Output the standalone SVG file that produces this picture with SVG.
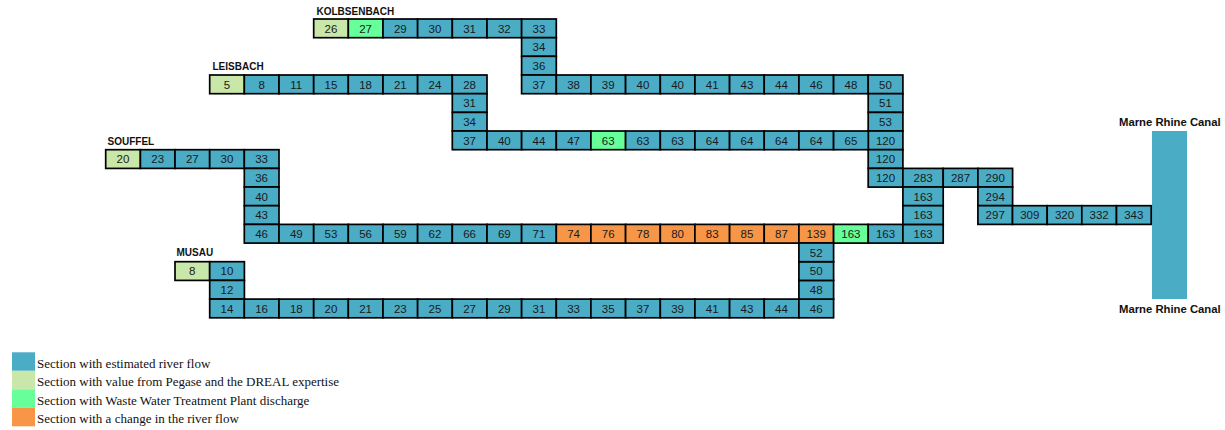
<svg xmlns="http://www.w3.org/2000/svg" width="1225" height="430" viewBox="0 0 1225 430">
<style>
rect.bl{fill:#4BACC6}
rect.lg{fill:#C9E7A8}
rect.gr{fill:#66FF99}
rect.or{fill:#F79646}
g.c rect{stroke:#000;stroke-width:1.7}
g.c text{font-family:"Liberation Sans",Arial,sans-serif;font-size:11.5px;text-anchor:middle;fill:#1a1a1a}
text.lab{font-family:"Liberation Sans",Arial,sans-serif;font-weight:bold;font-size:10px;fill:#111}
text.leg{font-family:"Liberation Serif","Times New Roman",serif;font-size:13px;fill:#111}
</style>
<rect width="1225" height="430" fill="#fff"/>
<g id="labels">
<text class="lab" x="316.5" y="15">KOLBSENBACH</text>
<text class="lab" x="212.5" y="69.5">LEISBACH</text>
<text class="lab" x="107.5" y="145">SOUFFEL</text>
<text class="lab" x="176.5" y="256">MUSAU</text>
<text class="lab" x="1119" y="126" style="font-size:11.3px">Marne Rhine Canal</text>
<text class="lab" x="1119" y="313" style="font-size:11.3px">Marne Rhine Canal</text>
</g>
<g id="canal"><rect x="1152" y="131" width="35" height="168" fill="#4BACC6"/></g>
<g id="connectors"></g>
<!-- Kolbsenbach -->
<g id="k1" class="c" transform="translate(313.7 19)"><rect class="lg" width="34.7" height="18.7"/><text x="17.3" y="13.5">26</text></g>
<g id="k2" class="c" transform="translate(348.3 19)"><rect class="gr" width="34.7" height="18.7"/><text x="17.3" y="13.5">27</text></g>
<g id="k3" class="c" transform="translate(383 19)"><rect class="bl" width="34.7" height="18.7"/><text x="17.3" y="13.5">29</text></g>
<g id="k4" class="c" transform="translate(417.6 19)"><rect class="bl" width="34.7" height="18.7"/><text x="17.3" y="13.5">30</text></g>
<g id="k5" class="c" transform="translate(452.3 19)"><rect class="bl" width="34.7" height="18.7"/><text x="17.3" y="13.5">31</text></g>
<g id="k6" class="c" transform="translate(487 19)"><rect class="bl" width="34.7" height="18.7"/><text x="17.3" y="13.5">32</text></g>
<g id="k7" class="c" transform="translate(521.6 19)"><rect class="bl" width="34.7" height="18.7"/><text x="17.3" y="13.5">33</text></g>
<g id="k8" class="c" transform="translate(521.6 37.7)"><rect class="bl" width="34.7" height="18.7"/><text x="17.3" y="13.5">34</text></g>
<g id="k9" class="c" transform="translate(521.6 56.3)"><rect class="bl" width="34.7" height="18.7"/><text x="17.3" y="13.5">36</text></g>
<g id="k10" class="c" transform="translate(521.6 75)"><rect class="bl" width="34.7" height="18.7"/><text x="17.3" y="13.5">37</text></g>
<g id="k11" class="c" transform="translate(556.3 75)"><rect class="bl" width="34.7" height="18.7"/><text x="17.3" y="13.5">38</text></g>
<g id="k12" class="c" transform="translate(590.9 75)"><rect class="bl" width="34.7" height="18.7"/><text x="17.3" y="13.5">39</text></g>
<g id="k13" class="c" transform="translate(625.6 75)"><rect class="bl" width="34.7" height="18.7"/><text x="17.3" y="13.5">40</text></g>
<g id="k14" class="c" transform="translate(660.3 75)"><rect class="bl" width="34.7" height="18.7"/><text x="17.3" y="13.5">40</text></g>
<g id="k15" class="c" transform="translate(694.9 75)"><rect class="bl" width="34.7" height="18.7"/><text x="17.3" y="13.5">41</text></g>
<g id="k16" class="c" transform="translate(729.6 75)"><rect class="bl" width="34.7" height="18.7"/><text x="17.3" y="13.5">43</text></g>
<g id="k17" class="c" transform="translate(764.2 75)"><rect class="bl" width="34.7" height="18.7"/><text x="17.3" y="13.5">44</text></g>
<g id="k18" class="c" transform="translate(798.9 75)"><rect class="bl" width="34.7" height="18.7"/><text x="17.3" y="13.5">46</text></g>
<g id="k19" class="c" transform="translate(833.6 75)"><rect class="bl" width="34.7" height="18.7"/><text x="17.3" y="13.5">48</text></g>
<g id="k20" class="c" transform="translate(868.2 75)"><rect class="bl" width="34.7" height="18.7"/><text x="17.3" y="13.5">50</text></g>
<g id="k21" class="c" transform="translate(868.2 93.7)"><rect class="bl" width="34.7" height="18.7"/><text x="17.3" y="13.5">51</text></g>
<g id="k22" class="c" transform="translate(868.2 112.4)"><rect class="bl" width="34.7" height="18.7"/><text x="17.3" y="13.5">53</text></g>
<g id="m1" class="c" transform="translate(868.2 131)"><rect class="bl" width="34.7" height="18.7"/><text x="17.3" y="13.5">120</text></g>
<g id="m2" class="c" transform="translate(868.2 149.7)"><rect class="bl" width="34.7" height="18.7"/><text x="17.3" y="13.5">120</text></g>
<g id="m3" class="c" transform="translate(868.2 168.4)"><rect class="bl" width="34.7" height="18.7"/><text x="17.3" y="13.5">120</text></g>
<!-- Leisbach -->
<g id="l1" class="c" transform="translate(209.7 75)"><rect class="lg" width="34.7" height="18.7"/><text x="17.3" y="13.5">5</text></g>
<g id="l2" class="c" transform="translate(244.3 75)"><rect class="bl" width="34.7" height="18.7"/><text x="17.3" y="13.5">8</text></g>
<g id="l3" class="c" transform="translate(279 75)"><rect class="bl" width="34.7" height="18.7"/><text x="17.3" y="13.5">11</text></g>
<g id="l4" class="c" transform="translate(313.7 75)"><rect class="bl" width="34.7" height="18.7"/><text x="17.3" y="13.5">15</text></g>
<g id="l5" class="c" transform="translate(348.3 75)"><rect class="bl" width="34.7" height="18.7"/><text x="17.3" y="13.5">18</text></g>
<g id="l6" class="c" transform="translate(383 75)"><rect class="bl" width="34.7" height="18.7"/><text x="17.3" y="13.5">21</text></g>
<g id="l7" class="c" transform="translate(417.6 75)"><rect class="bl" width="34.7" height="18.7"/><text x="17.3" y="13.5">24</text></g>
<g id="l8" class="c" transform="translate(452.3 75)"><rect class="bl" width="34.7" height="18.7"/><text x="17.3" y="13.5">28</text></g>
<g id="l9" class="c" transform="translate(452.3 93.7)"><rect class="bl" width="34.7" height="18.7"/><text x="17.3" y="13.5">31</text></g>
<g id="l10" class="c" transform="translate(452.3 112.4)"><rect class="bl" width="34.7" height="18.7"/><text x="17.3" y="13.5">34</text></g>
<g id="l11" class="c" transform="translate(452.3 131)"><rect class="bl" width="34.7" height="18.7"/><text x="17.3" y="13.5">37</text></g>
<g id="l12" class="c" transform="translate(487 131)"><rect class="bl" width="34.7" height="18.7"/><text x="17.3" y="13.5">40</text></g>
<g id="l13" class="c" transform="translate(521.6 131)"><rect class="bl" width="34.7" height="18.7"/><text x="17.3" y="13.5">44</text></g>
<g id="l14" class="c" transform="translate(556.3 131)"><rect class="bl" width="34.7" height="18.7"/><text x="17.3" y="13.5">47</text></g>
<g id="l15" class="c" transform="translate(590.9 131)"><rect class="gr" width="34.7" height="18.7"/><text x="17.3" y="13.5">63</text></g>
<g id="l16" class="c" transform="translate(625.6 131)"><rect class="bl" width="34.7" height="18.7"/><text x="17.3" y="13.5">63</text></g>
<g id="l17" class="c" transform="translate(660.3 131)"><rect class="bl" width="34.7" height="18.7"/><text x="17.3" y="13.5">63</text></g>
<g id="l18" class="c" transform="translate(694.9 131)"><rect class="bl" width="34.7" height="18.7"/><text x="17.3" y="13.5">64</text></g>
<g id="l19" class="c" transform="translate(729.6 131)"><rect class="bl" width="34.7" height="18.7"/><text x="17.3" y="13.5">64</text></g>
<g id="l20" class="c" transform="translate(764.2 131)"><rect class="bl" width="34.7" height="18.7"/><text x="17.3" y="13.5">64</text></g>
<g id="l21" class="c" transform="translate(798.9 131)"><rect class="bl" width="34.7" height="18.7"/><text x="17.3" y="13.5">64</text></g>
<g id="l22" class="c" transform="translate(833.6 131)"><rect class="bl" width="34.7" height="18.7"/><text x="17.3" y="13.5">65</text></g>
<!-- Souffel -->
<g id="s1" class="c" transform="translate(105.7 149.7)"><rect class="lg" width="34.7" height="18.7"/><text x="17.3" y="13.5">20</text></g>
<g id="s2" class="c" transform="translate(140.4 149.7)"><rect class="bl" width="34.7" height="18.7"/><text x="17.3" y="13.5">23</text></g>
<g id="s3" class="c" transform="translate(175 149.7)"><rect class="bl" width="34.7" height="18.7"/><text x="17.3" y="13.5">27</text></g>
<g id="s4" class="c" transform="translate(209.7 149.7)"><rect class="bl" width="34.7" height="18.7"/><text x="17.3" y="13.5">30</text></g>
<g id="s5" class="c" transform="translate(244.3 149.7)"><rect class="bl" width="34.7" height="18.7"/><text x="17.3" y="13.5">33</text></g>
<g id="s6" class="c" transform="translate(244.3 168.4)"><rect class="bl" width="34.7" height="18.7"/><text x="17.3" y="13.5">36</text></g>
<g id="s7" class="c" transform="translate(244.3 187)"><rect class="bl" width="34.7" height="18.7"/><text x="17.3" y="13.5">40</text></g>
<g id="s8" class="c" transform="translate(244.3 205.7)"><rect class="bl" width="34.7" height="18.7"/><text x="17.3" y="13.5">43</text></g>
<g id="s9" class="c" transform="translate(244.3 224.4)"><rect class="bl" width="34.7" height="18.7"/><text x="17.3" y="13.5">46</text></g>
<g id="s10" class="c" transform="translate(279 224.4)"><rect class="bl" width="34.7" height="18.7"/><text x="17.3" y="13.5">49</text></g>
<g id="s11" class="c" transform="translate(313.7 224.4)"><rect class="bl" width="34.7" height="18.7"/><text x="17.3" y="13.5">53</text></g>
<g id="s12" class="c" transform="translate(348.3 224.4)"><rect class="bl" width="34.7" height="18.7"/><text x="17.3" y="13.5">56</text></g>
<g id="s13" class="c" transform="translate(383 224.4)"><rect class="bl" width="34.7" height="18.7"/><text x="17.3" y="13.5">59</text></g>
<g id="s14" class="c" transform="translate(417.6 224.4)"><rect class="bl" width="34.7" height="18.7"/><text x="17.3" y="13.5">62</text></g>
<g id="s15" class="c" transform="translate(452.3 224.4)"><rect class="bl" width="34.7" height="18.7"/><text x="17.3" y="13.5">66</text></g>
<g id="s16" class="c" transform="translate(487 224.4)"><rect class="bl" width="34.7" height="18.7"/><text x="17.3" y="13.5">69</text></g>
<g id="s17" class="c" transform="translate(521.6 224.4)"><rect class="bl" width="34.7" height="18.7"/><text x="17.3" y="13.5">71</text></g>
<g id="s18" class="c" transform="translate(556.3 224.4)"><rect class="or" width="34.7" height="18.7"/><text x="17.3" y="13.5">74</text></g>
<g id="s19" class="c" transform="translate(590.9 224.4)"><rect class="or" width="34.7" height="18.7"/><text x="17.3" y="13.5">76</text></g>
<g id="s20" class="c" transform="translate(625.6 224.4)"><rect class="or" width="34.7" height="18.7"/><text x="17.3" y="13.5">78</text></g>
<g id="s21" class="c" transform="translate(660.3 224.4)"><rect class="or" width="34.7" height="18.7"/><text x="17.3" y="13.5">80</text></g>
<g id="s22" class="c" transform="translate(694.9 224.4)"><rect class="or" width="34.7" height="18.7"/><text x="17.3" y="13.5">83</text></g>
<g id="s23" class="c" transform="translate(729.6 224.4)"><rect class="or" width="34.7" height="18.7"/><text x="17.3" y="13.5">85</text></g>
<g id="s24" class="c" transform="translate(764.2 224.4)"><rect class="or" width="34.7" height="18.7"/><text x="17.3" y="13.5">87</text></g>
<g id="s25" class="c" transform="translate(798.9 224.4)"><rect class="or" width="34.7" height="18.7"/><text x="17.3" y="13.5">139</text></g>
<g id="s26" class="c" transform="translate(833.6 224.4)"><rect class="gr" width="34.7" height="18.7"/><text x="17.3" y="13.5">163</text></g>
<g id="s27" class="c" transform="translate(868.2 224.4)"><rect class="bl" width="34.7" height="18.7"/><text x="17.3" y="13.5">163</text></g>
<g id="s28" class="c" transform="translate(902.9 224.4)"><rect class="bl" width="40.3" height="18.7"/><text x="20.2" y="13.5">163</text></g>
<!-- Downstream -->
<g id="d1" class="c" transform="translate(902.9 168.4)"><rect class="bl" width="40.3" height="18.7"/><text x="20.2" y="13.5">283</text></g>
<g id="d2" class="c" transform="translate(902.9 187)"><rect class="bl" width="40.3" height="18.7"/><text x="20.2" y="13.5">163</text></g>
<g id="d3" class="c" transform="translate(902.9 205.7)"><rect class="bl" width="40.3" height="18.7"/><text x="20.2" y="13.5">163</text></g>
<g id="d4" class="c" transform="translate(943.2 168.4)"><rect class="bl" width="34.7" height="18.7"/><text x="17.3" y="13.5">287</text></g>
<g id="d5" class="c" transform="translate(977.9 168.4)"><rect class="bl" width="34.7" height="18.7"/><text x="17.3" y="13.5">290</text></g>
<g id="d6" class="c" transform="translate(977.9 187)"><rect class="bl" width="34.7" height="18.7"/><text x="17.3" y="13.5">294</text></g>
<g id="d7" class="c" transform="translate(977.9 205.7)"><rect class="bl" width="34.7" height="18.7"/><text x="17.3" y="13.5">297</text></g>
<g id="d8" class="c" transform="translate(1012.5 205.7)"><rect class="bl" width="34.7" height="18.7"/><text x="17.3" y="13.5">309</text></g>
<g id="d9" class="c" transform="translate(1047.2 205.7)"><rect class="bl" width="34.7" height="18.7"/><text x="17.3" y="13.5">320</text></g>
<g id="d10" class="c" transform="translate(1081.8 205.7)"><rect class="bl" width="34.7" height="18.7"/><text x="17.3" y="13.5">332</text></g>
<g id="d11" class="c" transform="translate(1116.5 205.7)"><rect class="bl" width="34.7" height="18.7"/><text x="17.3" y="13.5">343</text></g>
<!-- Musau -->
<g id="u1" class="c" transform="translate(175 261.7)"><rect class="lg" width="34.7" height="18.7"/><text x="17.3" y="13.5">8</text></g>
<g id="u2" class="c" transform="translate(209.7 261.7)"><rect class="bl" width="34.7" height="18.7"/><text x="17.3" y="13.5">10</text></g>
<g id="u3" class="c" transform="translate(209.7 280.4)"><rect class="bl" width="34.7" height="18.7"/><text x="17.3" y="13.5">12</text></g>
<g id="u4" class="c" transform="translate(209.7 299.1)"><rect class="bl" width="34.7" height="18.7"/><text x="17.3" y="13.5">14</text></g>
<g id="u5" class="c" transform="translate(244.3 299.1)"><rect class="bl" width="34.7" height="18.7"/><text x="17.3" y="13.5">16</text></g>
<g id="u6" class="c" transform="translate(279 299.1)"><rect class="bl" width="34.7" height="18.7"/><text x="17.3" y="13.5">18</text></g>
<g id="u7" class="c" transform="translate(313.7 299.1)"><rect class="bl" width="34.7" height="18.7"/><text x="17.3" y="13.5">20</text></g>
<g id="u8" class="c" transform="translate(348.3 299.1)"><rect class="bl" width="34.7" height="18.7"/><text x="17.3" y="13.5">21</text></g>
<g id="u9" class="c" transform="translate(383 299.1)"><rect class="bl" width="34.7" height="18.7"/><text x="17.3" y="13.5">23</text></g>
<g id="u10" class="c" transform="translate(417.6 299.1)"><rect class="bl" width="34.7" height="18.7"/><text x="17.3" y="13.5">25</text></g>
<g id="u11" class="c" transform="translate(452.3 299.1)"><rect class="bl" width="34.7" height="18.7"/><text x="17.3" y="13.5">27</text></g>
<g id="u12" class="c" transform="translate(487 299.1)"><rect class="bl" width="34.7" height="18.7"/><text x="17.3" y="13.5">29</text></g>
<g id="u13" class="c" transform="translate(521.6 299.1)"><rect class="bl" width="34.7" height="18.7"/><text x="17.3" y="13.5">31</text></g>
<g id="u14" class="c" transform="translate(556.3 299.1)"><rect class="bl" width="34.7" height="18.7"/><text x="17.3" y="13.5">33</text></g>
<g id="u15" class="c" transform="translate(590.9 299.1)"><rect class="bl" width="34.7" height="18.7"/><text x="17.3" y="13.5">35</text></g>
<g id="u16" class="c" transform="translate(625.6 299.1)"><rect class="bl" width="34.7" height="18.7"/><text x="17.3" y="13.5">37</text></g>
<g id="u17" class="c" transform="translate(660.3 299.1)"><rect class="bl" width="34.7" height="18.7"/><text x="17.3" y="13.5">39</text></g>
<g id="u18" class="c" transform="translate(694.9 299.1)"><rect class="bl" width="34.7" height="18.7"/><text x="17.3" y="13.5">41</text></g>
<g id="u19" class="c" transform="translate(729.6 299.1)"><rect class="bl" width="34.7" height="18.7"/><text x="17.3" y="13.5">43</text></g>
<g id="u20" class="c" transform="translate(764.2 299.1)"><rect class="bl" width="34.7" height="18.7"/><text x="17.3" y="13.5">44</text></g>
<g id="u21" class="c" transform="translate(798.9 299.1)"><rect class="bl" width="34.7" height="18.7"/><text x="17.3" y="13.5">46</text></g>
<g id="u22" class="c" transform="translate(798.9 280.4)"><rect class="bl" width="34.7" height="18.7"/><text x="17.3" y="13.5">48</text></g>
<g id="u23" class="c" transform="translate(798.9 261.7)"><rect class="bl" width="34.7" height="18.7"/><text x="17.3" y="13.5">50</text></g>
<g id="u24" class="c" transform="translate(798.9 243)"><rect class="bl" width="34.7" height="18.7"/><text x="17.3" y="13.5">52</text></g>
<!-- Legend -->
<g id="legend">
<rect class="bl" x="12" y="352.3" width="23" height="18.5"/>
<rect class="lg" x="12" y="370.8" width="23" height="18.5"/>
<rect class="gr" x="12" y="389.3" width="23" height="18.5"/>
<rect class="or" x="12" y="407.8" width="23" height="18.5"/>
<text class="leg" x="37" y="367.5">Section with estimated river flow</text>
<text class="leg" x="37" y="386">Section with value from Pegase and the DREAL expertise</text>
<text class="leg" x="37" y="404.5">Section with Waste Water Treatment Plant discharge</text>
<text class="leg" x="37" y="423">Section with a change in the river flow</text>
</g>
</svg>
